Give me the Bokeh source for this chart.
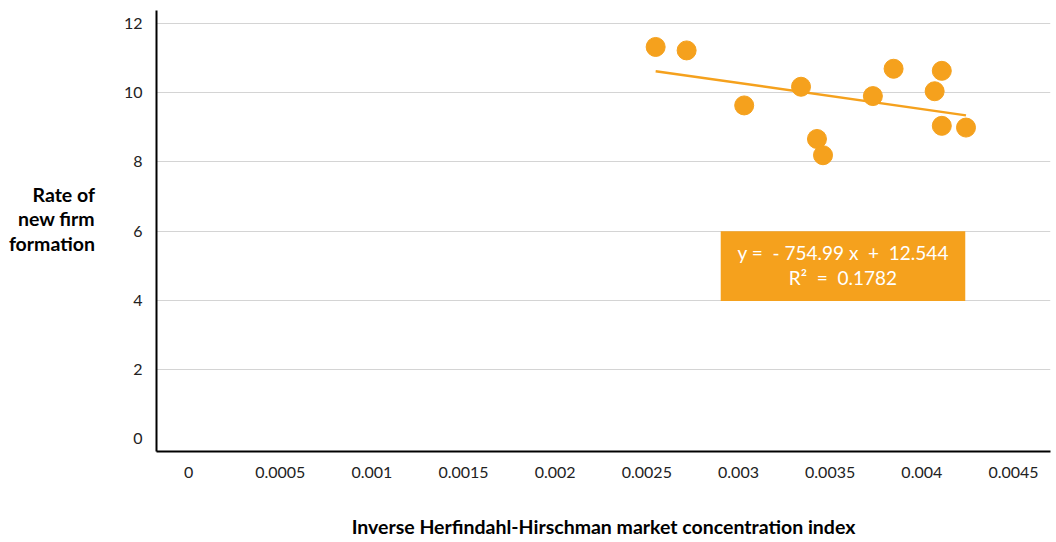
from bokeh.plotting import figure
from bokeh.models import Range1d, FixedTicker, Label, BoxAnnotation, ColumnDataSource
from bokeh.embed import file_html
from bokeh.resources import INLINE

# ---- data ----
x_vals = [0.002548, 0.002717, 0.003031, 0.003341, 0.003428, 0.003461,
          0.003733, 0.003846, 0.004070, 0.004109, 0.004109, 0.004241]
y_vals = [11.32, 11.22, 9.63, 10.17, 8.66, 8.19,
          9.90, 10.69, 10.04, 10.63, 9.04, 8.99]
trend_slope = -754.99
trend_intercept = 12.544
r_squared = 0.1782

x_ticks = [0, 0.0005, 0.001, 0.0015, 0.002, 0.0025, 0.003, 0.0035, 0.004, 0.0045]
x_tick_labels = ["0", "0.0005", "0.001", "0.0015", "0.002", "0.0025", "0.003", "0.0035", "0.004", "0.0045"]
y_ticks = [0, 2, 4, 6, 8, 10, 12]
y_grid_ticks = [2, 4, 6, 8, 10, 12]

x_title = "Inverse Herfindahl-Hirschman market concentration index"
y_title = "Rate of\nnew firm\nformation"

ORANGE = "#F5A11D"
FONT = "Lato"
NB = "\u00a0"

p = figure(width=1052, height=540, output_backend="svg", toolbar_location=None,
           x_range=Range1d(-0.000175, 0.004702), y_range=Range1d(-0.374, 12.374),
           min_border_left=156, min_border_right=2, min_border_top=10, min_border_bottom=87)
p.outline_line_color = None
p.background_fill_color = "white"
p.border_fill_color = "white"

# axes
for ax in (p.xaxis[0], p.yaxis[0]):
    ax.axis_line_color = "black"
    ax.axis_line_width = 2
    ax.major_tick_line_color = None
    ax.minor_tick_line_color = None
    ax.major_tick_in = 0
    ax.major_tick_out = 0
    ax.major_label_text_font = FONT
    ax.major_label_text_font_size = "16px"
    ax.major_label_text_color = "#222222"
    ax.axis_label_text_font = FONT
    ax.axis_label_text_font_style = "bold"
    ax.axis_label_text_font_size = "19.5px"
    ax.axis_label_text_color = "black"

p.xaxis.ticker = FixedTicker(ticks=x_ticks)
p.xaxis.major_label_overrides = {t: l for t, l in zip(x_ticks, x_tick_labels)}
p.xaxis.major_label_standoff = 15
p.xaxis.axis_label = x_title
p.xaxis.axis_label_standoff = 34

p.yaxis.ticker = FixedTicker(ticks=y_ticks)
p.yaxis.major_label_standoff = 14
# trailing blank line lifts the block to sit where the reference title sits
p.yaxis.axis_label = y_title + "\n" + NB
p.yaxis.axis_label_orientation = "horizontal"
p.yaxis.axis_label_text_align = "center"
p.yaxis.axis_label_text_line_height = 1.05
p.yaxis.axis_label_standoff = 26

p.xgrid.grid_line_color = None
p.ygrid.ticker = FixedTicker(ticks=y_grid_ticks)
p.ygrid.grid_line_color = "#D4D4D4"
p.ygrid.grid_line_width = 1

# trendline over data range
x0, x1 = min(x_vals), max(x_vals)
p.line([x0, x1], [trend_slope * x0 + trend_intercept, trend_slope * x1 + trend_intercept],
       line_color=ORANGE, line_width=2.5)

# points
src = ColumnDataSource(dict(x=x_vals, y=y_vals))
p.scatter("x", "y", source=src, size=19, fill_color=ORANGE, line_color=ORANGE)

# equation box
box = BoxAnnotation(left=0.002903, right=0.004237, bottom=3.98, top=5.99,
                    fill_color=ORANGE, fill_alpha=1.0, line_color=None)
p.add_layout(box)
eq_text = ("y" + NB + "=" + NB + NB + "-" + NB + "%.2f" + NB + "x" + NB + NB + "+" + NB + NB + "%.3f\n"
           "R\u00b2" + NB + NB + "=" + NB + NB + "%.4f") % (abs(trend_slope), trend_intercept, r_squared)
lab = Label(x=(0.002903 + 0.004237) / 2, y=5.02, text=eq_text,
            text_align="center", text_baseline="middle",
            text_font=FONT, text_font_size="19px", text_color="white",
            text_line_height=1.08)
p.add_layout(lab)

open("out.html", "w").write(file_html(p, INLINE))
